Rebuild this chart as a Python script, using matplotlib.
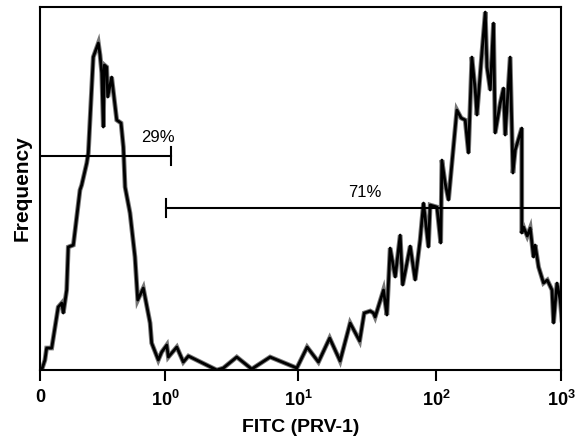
import numpy as np
import matplotlib
matplotlib.use('Agg')
import matplotlib.pyplot as plt

# FITC histogram, x in log decades (0 .. 4), y in relative counts
x_dec = [0.013, 0.038, 0.051, 0.090, 0.140, 0.167, 0.179, 0.205, 0.217, 0.256,
         0.307, 0.320, 0.359, 0.371, 0.409, 0.448, 0.461, 0.474, 0.486, 0.494,
         0.512, 0.520, 0.550, 0.589, 0.622, 0.640, 0.653, 0.691, 0.729, 0.750,
         0.793, 0.845, 0.857, 0.908, 0.934, 0.973, 0.985, 1.050, 1.100, 1.139,
         1.357, 1.407, 1.510, 1.625, 1.766, 1.971, 2.050, 2.137, 2.223, 2.303,
         2.380, 2.453, 2.488, 2.534, 2.559, 2.572, 2.636, 2.662, 2.687, 2.726,
         2.764, 2.783, 2.841, 2.879, 2.917, 2.943, 2.981, 2.994, 3.046, 3.075,
         3.084, 3.109, 3.135, 3.199, 3.232, 3.263, 3.288, 3.314, 3.340, 3.353,
         3.391, 3.417, 3.430, 3.455, 3.480, 3.493, 3.532, 3.557, 3.570, 3.608,
         3.629, 3.647, 3.697, 3.697, 3.711, 3.739, 3.762, 3.787, 3.800, 3.826,
         3.864, 3.893, 3.929, 3.941, 3.967, 3.992, 4.005]
counts = [0, 10, 22, 22, 63, 67, 57, 80, 123, 125,
          180, 185, 207, 217, 313, 327, 315, 297, 243, 305,
          303, 273, 293, 250, 247, 223, 183, 157, 113, 70,
          82, 47, 27, 10, 18, 25, 13, 23, 8, 14,
          0, 2, 13, 1, 13, 2, 23, 8, 32, 9,
          47, 29, 57, 59, 57, 53, 80, 55, 122, 93,
          135, 85, 124, 90, 130, 167, 123, 165, 163, 127,
          210, 187, 170, 260, 252, 250, 217, 313, 280, 255,
          317, 358, 303, 280, 347, 237, 267, 282, 235, 313,
          197, 220, 242, 137, 143, 134, 142, 113, 125, 103,
          87, 90, 80, 47, 87, 70, 50]

tick_pos = [0, 0.96, 1.98, 3.04, 4.0]
tick_labels = ['0', r'$\mathbf{10^0}$', r'$\mathbf{10^1}$', r'$\mathbf{10^2}$', r'$\mathbf{10^3}$']

# gates: (left, right, height, label, label x, label y)
gate_neg = (0.0, 1.006, 214, '29%', 0.78, 228)
gate_pos = (0.967, 4.0, 162, '71%', 2.365, 173)

plt.rcParams['font.family'] = 'Liberation Sans'
plt.rcParams['mathtext.fontset'] = 'custom'
plt.rcParams['mathtext.bf'] = 'Liberation Sans:bold'
plt.rcParams['mathtext.rm'] = 'Liberation Sans'

fig = plt.figure(figsize=(5.76, 4.4), dpi=100)
ax = fig.add_axes([0.0694, 0.159, 0.905, 0.825])

# gray shadow then black outline, like the scanned trace
ax.plot(x_dec, counts, color='#777777', lw=3.4, solid_joinstyle='miter')
ax.plot(x_dec, counts, color='black', lw=2.0)

for left, right, h, lab, lx, ly in [gate_neg, gate_pos]:
    ax.plot([left, right], [h, h], color='black', lw=1.5)
    if left > 0:
        ax.plot([left, left], [h - 9, h + 9], color='black', lw=1.5)
    else:
        ax.plot([right, right], [h - 9, h + 9], color='black', lw=1.5)
    ax.text(lx, ly, lab, fontsize=12, ha='left', va='baseline')

ax.set_xlim(0, 4.0)
ax.set_ylim(0, 363)
ax.set_xticks(tick_pos)
ax.set_xticklabels(tick_labels, fontsize=13, fontweight='bold')
ax.set_yticks([])
ax.tick_params(axis='x', direction='out', length=8, width=1.5, pad=6)
for s in ax.spines.values():
    s.set_linewidth(1.5)

ax.set_xlabel('FITC (PRV-1)', fontsize=14, fontweight='bold', labelpad=7)
ax.set_ylabel('Frequency', fontsize=15, fontweight='bold', labelpad=6)

fig.savefig('out.png', dpi=100)
